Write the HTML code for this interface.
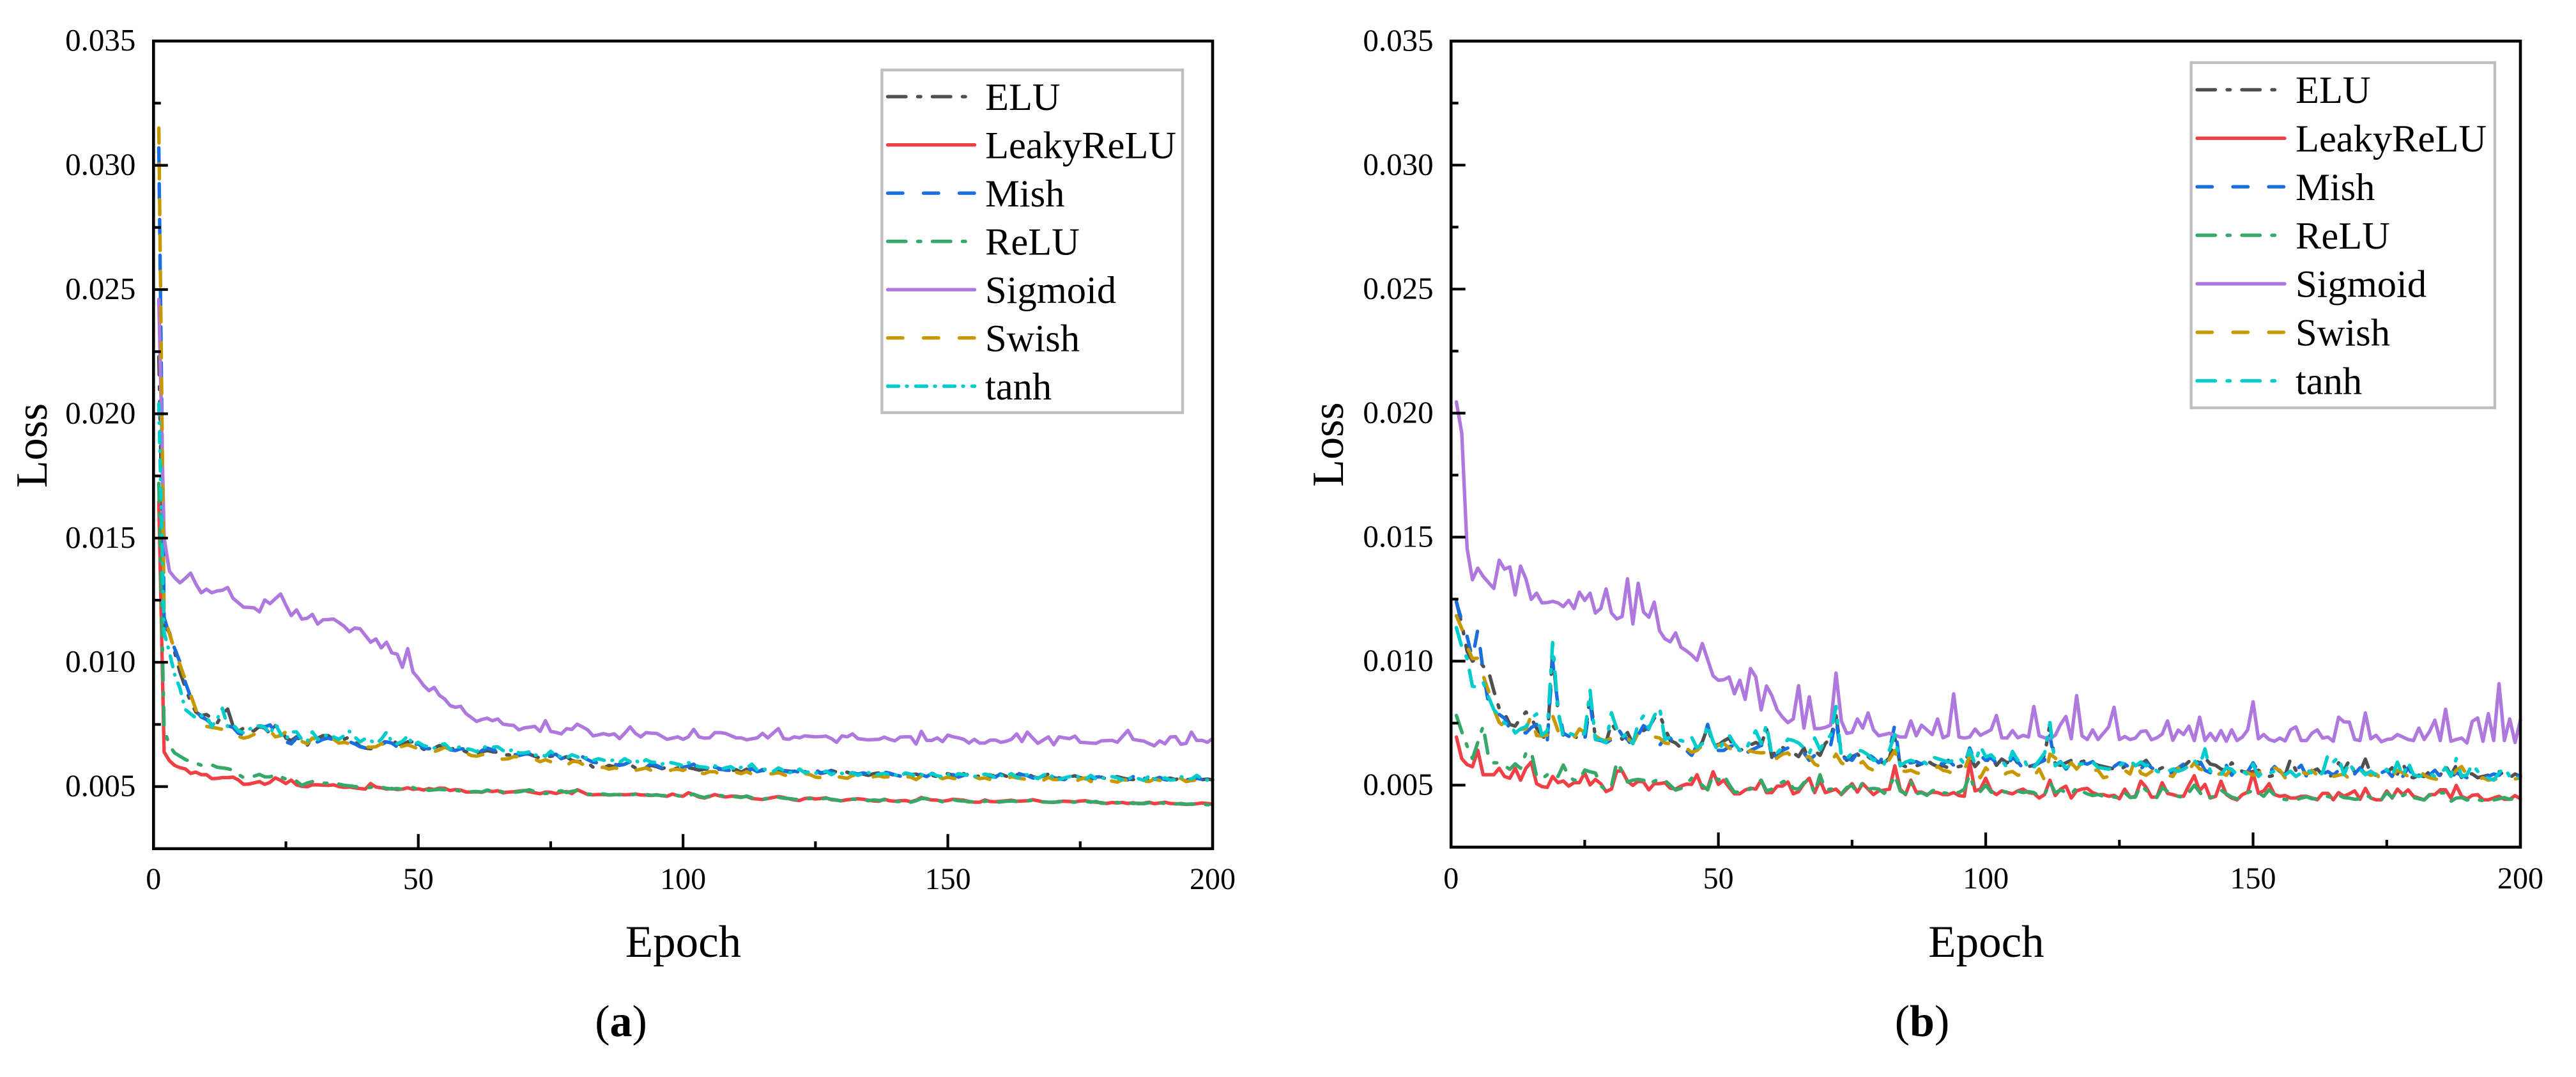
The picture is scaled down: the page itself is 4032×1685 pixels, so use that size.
<!DOCTYPE html>
<html lang="en">
<head>
<meta charset="utf-8">
<title>Training loss by activation function</title>
<style>
html,body{margin:0;padding:0;background:#fff;width:4032px;height:1685px;overflow:hidden}
svg{display:block;font-family:"Liberation Serif","Times New Roman",serif}
</style>
</head>
<body>
<svg id="figure" xmlns="http://www.w3.org/2000/svg" width="4032" height="1685" viewBox="0 0 4032 1685"></svg>
<script>
// All loss values are stored as loss x 100000, listed by epoch 1..200.
const xTickValues = [0, 25, 50, 75, 100, 125, 150, 175, 200];
const xTickLabels = ['0', '', '50', '', '100', '', '150', '', '200'];
const yTickValues = [0.0025, 0.005, 0.0075, 0.01, 0.0125, 0.015, 0.0175, 0.02, 0.0225, 0.025, 0.0275, 0.03, 0.0325, 0.035];
const yTickLabels = ['', '0.005', '', '0.010', '', '0.015', '', '0.020', '', '0.025', '', '0.030', '', '0.035'];
const seriesNames = ['ELU', 'LeakyReLU', 'Mish', 'ReLU', 'Sigmoid', 'Swish', 'tanh'];

const aElu = [2230,1150,1120,1040,960,900,840,800,785,790,
775,755,790,812,745,722,735,720,725,742,
735,712,745,735,695,685,700,680,665,700,
695,705,705,690,680,690,700,680,662,655,
652,672,670,685,690,672,668,680,680,665,
650,650,655,665,660,650,655,650,640,632,
635,640,645,640,638,625,628,622,625,635,
630,622,615,618,622,625,612,620,605,600,
602,595,578,580,575,585,580,590,585,588,
575,580,578,585,580,572,578,568,575,580,
576,572,566,570,572,568,570,565,563,568,
558,570,562,560,568,560,556,566,564,562,
560,565,560,552,562,553,557,565,558,553,
558,549,555,550,545,552,555,548,551,545,
550,553,548,550,543,552,545,540,548,552,
545,540,552,543,538,543,552,547,540,550,
542,535,548,543,552,540,534,542,550,538,
535,530,540,543,536,532,541,535,538,530,
535,540,534,530,528,537,535,527,531,533,
529,534,528,536,530,525,532,528,530,527];
const aLeaky = [1646,639,604,585,576,571,553,558,548,548,
532,533,536,536,538,527,509,510,515,520,
509,517,535,525,512,526,507,501,499,507,
507,506,505,507,500,497,498,495,492,490,
512,498,495,490,492,488,490,495,489,491,
486,492,488,494,493,484,488,486,478,478,
479,477,484,480,483,475,478,479,482,484,
479,475,471,478,477,472,478,480,472,487,
478,468,467,468,468,466,467,468,467,468,
470,466,466,464,467,463,461,470,463,461,
475,468,458,454,460,468,462,458,461,461,
458,460,452,450,448,452,456,460,456,451,
446,444,452,454,450,452,455,447,445,443,
447,449,451,449,445,442,441,449,443,441,
443,444,439,445,456,450,446,445,441,444,
449,447,445,440,437,437,446,440,439,441,
443,445,441,442,443,447,443,438,437,436,
440,441,440,438,442,443,439,437,435,432,
436,434,436,432,435,431,433,437,431,434,
437,432,431,430,428,429,431,434,432,429];
const aMish = [3070,1180,1110,1055,1000,920,860,805,780,770,
750,742,735,745,738,715,708,720,732,745,
740,748,720,700,680,672,695,702,680,672,
680,690,695,688,695,690,680,672,660,655,
650,672,668,680,675,660,665,662,668,672,
655,652,660,660,665,648,645,652,650,640,
628,645,655,648,642,632,628,630,625,630,
632,625,618,622,628,630,612,622,618,612,
620,608,598,595,590,600,590,585,590,600,
585,590,578,592,585,575,580,575,585,578,
582,590,572,575,570,578,572,566,565,570,
562,566,572,560,565,558,562,570,563,558,
562,558,566,565,568,555,560,562,552,558,
548,556,550,555,550,545,552,558,554,547,
542,550,545,552,548,540,553,546,542,555,
548,538,545,550,542,548,553,540,538,552,
540,545,556,548,544,535,530,545,552,536,
531,528,540,538,545,532,528,538,540,533,
528,535,530,527,540,533,528,534,530,537,
528,525,532,538,526,524,533,529,526,528];
const aRelu = [1720,733,664,635,622,609,600,594,586,588,
587,578,575,572,566,549,536,539,542,549,
539,539,548,539,530,530,522,505,514,520,
515,514,513,512,510,505,503,500,497,495,
497,500,498,493,490,492,489,491,496,488,
490,485,487,489,487,490,485,482,480,479,
480,478,486,482,485,478,476,477,479,483,
487,480,474,472,474,479,483,476,481,484,
477,470,468,471,470,466,468,467,468,466,
469,467,468,465,466,464,463,466,464,459,
465,469,461,456,462,467,464,460,458,459,
456,462,455,448,449,453,458,457,453,452,
449,447,450,452,451,450,453,449,446,441,
444,450,447,448,443,446,444,447,446,440,
440,445,437,443,452,452,445,444,439,442,
447,443,442,438,439,436,441,442,437,438,
441,442,440,444,442,445,441,439,437,437,
438,443,438,437,439,441,437,440,433,433,
437,436,433,435,432,433,431,435,433,435,
432,431,430,432,429,430,428,429,427,425];
const aSigmoid = [2460,1500,1367,1340,1320,1338,1359,1315,1280,1294,
1280,1287,1290,1301,1258,1240,1222,1221,1219,1203,
1251,1236,1256,1275,1230,1188,1211,1174,1177,1193,
1154,1171,1172,1174,1160,1145,1123,1138,1135,1108,
1081,1094,1058,1081,1038,1033,980,1055,961,936,
907,886,899,867,852,826,819,823,794,778,
762,770,775,765,772,751,748,746,728,736,
739,742,722,765,722,718,712,733,730,751,
740,728,704,708,713,707,712,693,715,740,
714,700,717,715,714,702,690,695,700,690,
700,730,700,695,696,717,717,714,705,696,
696,688,692,696,714,696,715,733,693,690,
700,696,704,702,700,701,703,693,678,704,
700,712,693,690,688,689,690,699,690,684,
699,700,700,671,722,686,686,696,681,707,
700,696,690,675,690,675,675,687,687,678,
682,690,712,681,719,696,674,687,700,668,
700,696,693,703,678,677,675,674,684,685,
686,678,702,726,690,686,683,673,664,684,
672,699,701,670,674,719,686,686,678,693];
const aSwish = [3150,1200,1115,1050,990,930,870,810,750,742,
738,735,730,728,722,702,695,700,710,722,
722,725,700,705,720,715,690,682,672,695,
688,680,688,690,675,678,672,668,665,660,
658,660,672,668,670,655,662,668,660,652,
648,650,640,648,658,650,645,650,635,625,
622,628,632,630,615,610,612,620,620,625,
618,610,600,608,600,590,598,585,600,602,
590,578,572,575,578,570,575,572,580,575,
565,570,575,565,568,560,560,568,570,565,
575,580,555,552,560,560,548,555,552,558,
552,560,550,548,545,550,552,556,548,540,
542,550,552,548,538,536,535,548,540,537,
533,545,540,535,530,540,543,538,540,530,
535,540,538,528,542,532,527,540,532,538,
533,530,535,538,540,532,535,528,530,535,
530,540,535,532,528,538,530,525,537,528,
528,530,524,520,530,535,520,525,528,530,
522,518,528,525,533,526,522,520,530,525,
522,520,528,533,520,524,526,522,520,523];
const aTanh = [2040,1120,1040,950,895,810,793,776,785,783,
741,771,815,741,750,725,716,729,744,744,
738,712,751,712,690,720,720,690,681,720,
690,698,712,700,690,705,722,700,680,693,
685,672,690,719,680,672,682,704,668,678,
665,660,655,668,672,650,655,660,652,649,
640,655,662,658,660,645,640,652,635,635,
640,625,632,622,642,625,620,615,628,620,
612,618,605,612,606,602,608,598,612,600,
606,592,608,598,598,590,600,595,590,584,
596,590,580,578,574,584,570,575,580,567,
578,575,590,566,570,568,560,575,565,555,
560,570,555,560,555,552,562,548,558,553,
548,555,545,552,556,545,550,553,548,548,
540,555,550,543,548,545,552,543,540,550,
540,552,548,544,540,545,550,546,535,545,
540,552,538,535,548,540,532,545,553,533,
528,535,540,545,536,530,545,530,535,533,
540,535,526,530,540,532,525,542,530,528,
535,526,528,540,532,530,545,532,526,530];

const bElu = [1240,1150,1040,1000,1010,980,960,880,810,790,
745,738,770,795,770,730,700,680,1040,795,
700,708,700,682,685,860,690,685,672,750,
715,685,712,668,735,720,732,770,785,730,
680,670,650,640,620,640,675,735,668,662,
678,690,650,640,648,662,672,660,730,612,
650,652,640,630,615,650,595,640,620,668,
690,780,630,600,615,625,605,615,598,595,
590,610,690,585,575,575,578,585,600,585,
575,578,570,572,575,580,615,575,600,590,
620,580,605,590,610,590,585,575,580,590,
620,745,585,580,590,600,585,595,600,590,
580,575,570,565,560,575,590,580,585,600,
570,560,570,575,565,562,575,595,610,585,
610,585,580,565,558,590,570,555,550,555,
560,545,535,540,555,540,605,560,540,545,
555,565,540,530,545,590,560,600,550,552,
605,545,540,535,550,570,545,590,535,530,
540,535,555,545,540,578,540,580,530,548,
545,530,535,540,545,555,540,530,545,535];
const bLeaky = [694,607,583,574,641,542,542,542,568,535,
528,568,520,568,593,506,494,491,535,510,
517,496,510,510,549,501,523,506,474,484,
557,557,516,499,516,513,481,506,506,510,
488,484,496,504,503,542,488,488,554,503,
520,491,465,465,480,488,484,520,470,470,
496,496,513,465,474,506,528,470,520,470,
477,484,462,484,506,472,506,484,462,477,
480,484,578,484,462,520,472,472,462,472,
470,462,462,470,458,455,593,477,484,528,
477,462,477,470,465,477,484,470,467,448,
462,520,458,484,496,448,477,484,487,470,
462,462,455,459,445,484,451,455,516,491,
452,452,510,467,462,455,455,499,538,477,
503,448,455,516,462,448,441,462,472,549,
467,477,506,462,455,458,448,448,455,455,
448,441,467,467,441,470,455,465,477,443,
487,448,441,441,477,448,484,462,481,455,
448,441,462,462,481,481,448,499,455,445,
459,462,441,441,448,455,443,443,458,445];
const bMish = [1238,1165,1100,1010,1127,960,830,795,785,770,
727,710,719,710,732,745,693,680,1000,820,
710,697,697,680,680,830,684,680,671,684,
736,702,684,654,702,740,723,684,660,690,
690,660,650,640,620,660,668,745,660,640,
640,655,660,630,625,640,650,660,655,612,
620,640,650,645,620,630,600,620,645,650,
660,770,605,610,600,630,650,625,610,590,
620,640,745,575,590,590,595,585,600,580,
590,585,600,580,585,578,650,595,620,600,
610,590,570,580,610,595,565,600,575,590,
600,700,580,595,565,578,565,590,585,595,
570,565,560,575,590,585,570,590,565,590,
570,560,555,540,555,570,585,575,590,600,
560,550,565,555,580,540,570,585,555,590,
555,560,550,575,555,540,535,560,580,535,
535,530,545,555,540,560,540,535,545,570,
545,550,535,550,560,535,575,535,570,535,
530,535,540,560,535,555,530,550,540,530,
540,525,530,535,545,540,550,530,535,540];
const bRelu = [781,716,658,607,672,738,614,590,590,578,
564,586,568,629,636,535,525,542,549,535,
581,535,520,520,561,554,549,499,477,496,
593,557,513,520,523,520,501,516,525,520,
499,480,487,503,528,520,499,481,542,520,
542,503,472,472,481,484,503,520,477,484,
499,513,520,487,484,510,520,467,542,481,
484,487,465,490,499,470,513,484,487,484,
467,491,542,477,465,513,465,470,459,477,
484,470,466,475,470,484,542,478,475,500,
472,470,474,472,478,476,470,474,470,455,
460,513,470,480,472,462,490,475,465,458,
462,455,458,452,448,470,450,452,500,480,
458,450,490,475,460,455,450,470,500,472,
445,450,458,480,465,452,445,452,470,478,
470,455,482,460,447,442,441,440,448,453,
445,445,452,455,447,460,450,448,443,445,
462,450,440,442,470,450,475,458,470,450,
445,440,460,455,470,468,435,448,450,440,
445,441,438,436,440,445,450,443,446,440];
const bSigmoid = [2045,1920,1455,1328,1375,1342,1317,1293,1407,1371,
1380,1267,1383,1332,1249,1274,1235,1236,1241,1235,
1220,1245,1212,1278,1245,1274,1194,1212,1291,1194,
1170,1180,1332,1150,1314,1198,1177,1238,1122,1090,
1078,1114,1056,1042,1025,1003,1071,1006,941,923,
925,936,868,923,846,970,936,803,900,861,
803,774,752,767,901,730,856,728,728,733,
742,952,759,709,713,767,730,791,723,699,
704,709,701,694,694,759,699,742,723,704,
767,691,701,868,694,690,694,726,701,712,
723,781,691,690,720,691,701,694,817,699,
691,687,701,745,777,687,861,699,684,723,
684,709,735,814,684,696,684,690,716,719,
683,691,706,759,681,722,704,738,680,774,
680,709,680,720,677,723,680,694,723,836,
687,704,684,677,690,678,723,735,680,680,
709,723,690,694,677,774,755,754,684,680,
791,687,701,675,684,687,704,694,684,680,
730,684,716,762,680,806,677,684,690,670,
757,771,677,788,680,909,680,767,672,762];
const bSwish = [1183,1132,1060,1010,1012,942,880,805,753,735,
732,736,725,727,780,700,698,702,780,720,
695,700,690,727,712,736,700,684,680,690,
702,690,690,668,710,700,702,695,690,670,
667,662,655,650,632,640,660,670,650,660,
668,650,640,625,632,638,632,630,632,590,
610,625,630,605,600,612,615,585,575,582,
590,625,590,578,590,580,595,570,560,565,
575,605,640,560,555,560,550,545,545,555,
575,560,555,545,540,560,620,555,530,570,
548,542,535,550,555,540,545,548,535,565,
520,625,610,575,565,590,565,590,565,560,
560,530,535,540,550,560,545,610,548,540,
555,565,555,540,535,570,535,560,590,565,
560,560,535,550,540,570,545,555,550,540,
545,575,590,570,560,530,535,535,555,545,
560,540,530,545,535,540,545,525,530,550,
550,540,545,520,520,535,560,550,535,545,
565,540,530,525,522,525,530,560,575,540,
525,522,530,520,525,522,530,535,525,530];
const bTanh = [1135,1058,1011,899,895,916,856,805,779,749,
749,710,727,736,770,787,702,719,1075,800,
693,710,702,693,710,882,684,684,671,792,
727,693,710,667,749,779,727,779,813,684,
693,684,680,672,693,650,667,745,676,633,
676,702,667,641,633,684,719,667,745,620,
630,655,685,680,670,650,625,690,643,680,
701,817,614,607,629,643,636,622,600,607,
585,643,704,578,593,600,593,600,585,614,
607,600,593,600,614,585,643,585,658,614,
622,600,600,571,636,600,614,564,571,600,
629,752,578,593,571,578,585,585,593,593,
571,568,564,571,578,593,600,578,593,578,
585,556,549,556,564,556,564,578,600,578,
646,556,556,542,571,564,542,556,542,585,
535,556,549,556,549,542,556,535,549,564,
549,535,549,622,593,614,542,593,549,564,
542,556,542,549,564,535,593,535,593,542,
535,542,549,535,542,571,535,607,535,542,
585,556,535,528,520,549,571,535,520,535];

const seriesColors = ['#505050', '#F04045', '#1A6FE0', '#36A96A', '#AF78DE', '#C89800', '#00CCCC'];
const longDashDot = '28.5 18.5 4.5 18.5';
const dashed = '23.5 32.5';
const shortDashDot = '17 12.5 1 13.5';

const panels = [
  {
    id: 'a', caption: 'a', left: 240.3, right: 1898, top: 64.2, bottom: 1327.8,
    values: [aElu, aLeaky, aMish, aRelu, aSigmoid, aSwish, aTanh],
    dashes: [longDashDot, '', dashed, longDashDot, '', dashed, shortDashDot],
    legend: { x1: 1380.4, x2: 1851, y1: 109.5, y2: 645.6, h1: 1389.5, h2: 1525.5, tx: 1542, first: 151.2, step: 75.5 },
    lossX: 73, lossY: 697, tickRight: 212.4, tickBase: 1391, epochX: 1069.5, epochBase: 1497, capX: 972
  },
  {
    id: 'b', caption: 'b', left: 2271.2, right: 3945, top: 64.3, bottom: 1325.4,
    values: [bElu, bLeaky, bMish, bRelu, bSigmoid, bSwish, bTanh],
    dashes: [longDashDot, '', dashed, longDashDot, '', dashed, longDashDot],
    legend: { x1: 3429.6, x2: 3905, y1: 98, y2: 638, h1: 3439, h2: 3576, tx: 3593, first: 140.4, step: 75.9 },
    lossX: 2102, lossY: 695.5, tickRight: 2243.6, tickBase: 1390, epochX: 3109, epochBase: 1497, capX: 3008.5
  }
];

const svgNS = 'http://www.w3.org/2000/svg';
const figure = document.getElementById('figure');

function make(tag, attrs, parent) {
  const el = document.createElementNS(svgNS, tag);
  for (const k in attrs) el.setAttribute(k, attrs[k]);
  parent.appendChild(el);
  return el;
}

function drawPanel(p) {
  const xScale = e => p.left + (e / 200) * (p.right - p.left);
  const yScale = v => p.bottom - ((v - 0.0025) / (0.035 - 0.0025)) * (p.bottom - p.top);

  const g = make('g', {}, figure);
  
  

  // Series, drawn in legend order so later series sit on top.
  seriesNames.forEach((name, i) => {
    const d = p.values[i].map((v, idx) =>
      (idx ? 'L' : 'M') + xScale(idx + 1).toFixed(2) + ' ' + yScale(v / 100000).toFixed(2)).join('');
    const line = make('path', {
      d: d, fill: 'none', stroke: seriesColors[i], 'stroke-width': 5.4,
      'stroke-linejoin': 'round', 'stroke-linecap': 'round'
    }, g);
    if (p.dashes[i]) line.setAttribute('stroke-dasharray', p.dashes[i]);
    
    
  });

  // Plot frame
  const frame = make('rect', {
    x: p.left, y: p.top, width: p.right - p.left, height: p.bottom - p.top,
    fill: 'none', stroke: '#000', 'stroke-width': 4.6
  }, g);
  
  

  // X ticks
  xTickValues.forEach((t, i) => {
    const len = xTickLabels[i] ? 23 : 11.5;
    if (t > 0 && t < 200) {
      const tick = make('line', {
        x1: xScale(t), x2: xScale(t), y1: p.bottom, y2: p.bottom - len, stroke: '#000', 'stroke-width': 4.2
      }, g);
      
      
    }
    if (xTickLabels[i]) {
      const label = make('text', {
        x: xScale(t), y: p.tickBase, 'text-anchor': 'middle', 'font-size': 48, fill: '#000'
      }, g);
      label.textContent = xTickLabels[i];
      
      
    }
  });

  // Y ticks
  yTickValues.forEach((t, i) => {
    const len = yTickLabels[i] ? 22.5 : 11.5;
    if (t > 0.0025 && t < 0.035) {
      const tick = make('line', {
        x1: p.left, x2: p.left + len, y1: yScale(t), y2: yScale(t), stroke: '#000', 'stroke-width': 4.2
      }, g);
      
      
    }
    if (yTickLabels[i]) {
      const label = make('text', {
        x: p.tickRight, y: yScale(t) + 15, 'text-anchor': 'end', 'font-size': 49, fill: '#000'
      }, g);
      label.textContent = yTickLabels[i];
      
      
    }
  });

  // Axis titles
  const yTitle = make('text', {
    x: p.lossX, y: p.lossY, 'text-anchor': 'middle', 'font-size': 70, fill: '#000',
    transform: 'rotate(-90 ' + p.lossX + ' ' + p.lossY + ')'
  }, g);
  yTitle.textContent = 'Loss';
  
  

  const xTitle = make('text', {
    x: p.epochX, y: p.epochBase, 'text-anchor': 'middle', 'font-size': 71, fill: '#000'
  }, g);
  xTitle.textContent = 'Epoch';
  
  

  // Caption
  const cap = make('text', {
    x: p.capX, y: 1621, 'text-anchor': 'middle', 'font-size': 70, fill: '#000'
  }, g);
  
  
  cap.appendChild(document.createTextNode('('));
  const capBold = make('tspan', { 'font-weight': 'bold' }, cap);
  capBold.textContent = p.caption;
  cap.appendChild(document.createTextNode(')'));

  // Legend
  const L = p.legend;
  const legend = make('g', {}, g);
  
  
  const box = make('rect', {
    x: L.x1, y: L.y1, width: L.x2 - L.x1, height: L.y2 - L.y1, fill: '#fff', stroke: '#BFBFBF', 'stroke-width': 4.4
  }, legend);
  
  
  seriesNames.forEach((name, i) => {
    const cy = L.first + i * L.step;
    const handle = make('line', {
      x1: L.h1, x2: L.h2, y1: cy, y2: cy, stroke: seriesColors[i], 'stroke-width': 5.4, 'stroke-linecap': 'round'
    }, legend);
    if (p.dashes[i]) handle.setAttribute('stroke-dasharray', p.dashes[i]);
    
    
    const text = make('text', { x: L.tx, y: cy + 20.7, 'font-size': 60.5, fill: '#000' }, legend);
    text.textContent = name;
    
    
  });
}

panels.forEach(drawPanel);
</script>
</body>
</html>
